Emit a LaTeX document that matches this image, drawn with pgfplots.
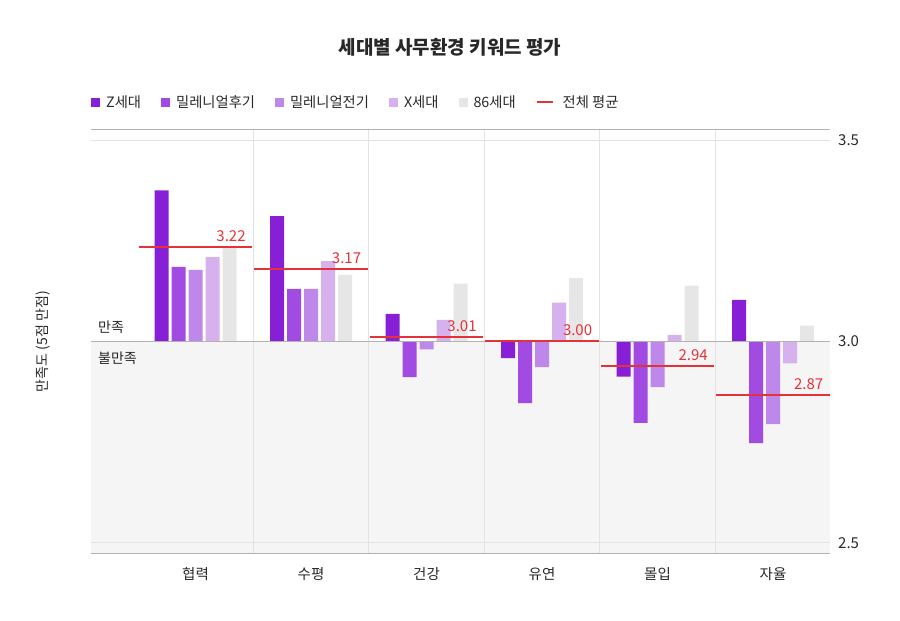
\documentclass[border=0pt]{standalone}
\usepackage{fontspec}
\setmainfont{Noto Sans CJK KR}
\usepackage{pgfplots}
\pgfplotsset{compat=1.18}
\usepackage{pgfplotstable}
\definecolor{cz}{RGB}{134,31,214}
\definecolor{cml}{RGB}{161,75,226}
\definecolor{cme}{RGB}{189,136,234}
\definecolor{cx}{RGB}{214,177,238}
\definecolor{c86}{RGB}{230,230,230}
\definecolor{cavg}{RGB}{228,50,58}
\definecolor{lowbg}{RGB}{245,245,245}
\definecolor{gridc}{RGB}{226,226,226}
\definecolor{basec}{RGB}{178,178,178}
\definecolor{txt}{RGB}{40,40,40}
\tikzset{avglab/.style={font=\fontsize{15}{18}\selectfont, text=cavg, anchor=base east, inner sep=0pt, xshift=-5.5pt, yshift=5.5pt}}

\pgfplotstableread{
x  z     ml    me    xg    e86
0  3.376 3.186 3.178 3.210 3.234
1  3.312 3.131 3.131 3.200 3.166
2  3.069 2.912 2.981 3.054 3.144
3  2.959 2.847 2.937 3.097 3.158
4  2.913 2.798 2.887 3.017 3.139
5  3.104 2.748 2.795 2.946 3.040
}\datatable

\begin{document}
\begin{tikzpicture}
\useasboundingbox (0pt,0pt) rectangle (900pt,621pt);
\node[font=\fontsize{19}{22}\selectfont\bfseries, text=txt] at (450pt,574pt) {세대별 사무환경 키워드 평가};
\begin{axis}[
  at={(91pt,67pt)}, anchor=south west,
  scale only axis, width=739pt, height=424.7pt,
  clip=false,
  xmin=-0.905, xmax=5.493,
  ymin=-0.5275, ymax=0.5275,
  axis line style={draw=none},
  major tick length=0pt,
  xtick={0,1,2,3,4,5}, xticklabels={협력,수평,건강,유연,몰입,자율},
  ytick={-0.5,0,0.5}, yticklabels={2.5,3.0,3.5},
  yticklabel pos=right,
  xticklabel style={font=\fontsize{14.5}{17}\selectfont, text=txt, inner sep=0pt, anchor=center, yshift=-20pt},
  yticklabel style={font=\fontsize{15}{18}\selectfont, text=txt, inner sep=0pt, anchor=west, xshift=8pt},
  legend style={draw=none, fill=none, at={(0,1)}, anchor=west, yshift=27pt,
    inner sep=0pt, font=\fontsize{14.3}{16}\selectfont, text=txt,
    nodes={inner sep=0pt, anchor=west},
    /tikz/every odd column/.append style={column sep=6pt},
    /tikz/every even column/.append style={column sep=20pt}},
  legend columns=-1,
]
\fill[lowbg] (rel axis cs:0,0) rectangle (rel axis cs:1,0.5);
\draw[gridc, line width=1pt] (rel axis cs:0,0.02607) -- (rel axis cs:1,0.02607);
\draw[gridc, line width=1pt] (rel axis cs:0,0.97393) -- (rel axis cs:1,0.97393);
\pgfplotsinvokeforeach{0.5,1.5,2.5,3.5,4.5}{
  \draw[gridc, line width=1pt] ({axis cs:#1,0} |- {rel axis cs:0,0}) -- ({axis cs:#1,0} |- {rel axis cs:0,1});
}

\addplot[ybar, bar width=14pt, bar shift=-34pt, fill=cz, draw=none,
  legend image code/.code={\fill[cz] (0pt,-4.5pt) rectangle (9pt,4.5pt);}]
  table[x=x, y expr=\thisrow{z}-3]{\datatable};
\addlegendentry{Z세대}
\addplot[ybar, bar width=14pt, bar shift=-17pt, fill=cml, draw=none,
  legend image code/.code={\fill[cml] (0pt,-4.5pt) rectangle (9pt,4.5pt);}]
  table[x=x, y expr=\thisrow{ml}-3]{\datatable};
\addlegendentry{밀레니얼후기}
\addplot[ybar, bar width=14pt, bar shift=0pt, fill=cme, draw=none,
  legend image code/.code={\fill[cme] (0pt,-4.5pt) rectangle (9pt,4.5pt);}]
  table[x=x, y expr=\thisrow{me}-3]{\datatable};
\addlegendentry{밀레니얼전기}
\addplot[ybar, bar width=14pt, bar shift=17pt, fill=cx, draw=none,
  legend image code/.code={\fill[cx] (0pt,-4.5pt) rectangle (9pt,4.5pt);}]
  table[x=x, y expr=\thisrow{xg}-3]{\datatable};
\addlegendentry{X세대}
\addplot[ybar, bar width=14pt, bar shift=34pt, fill=c86, draw=none,
  legend image code/.code={\fill[c86] (0pt,-4.5pt) rectangle (9pt,4.5pt);}]
  table[x=x, y expr=\thisrow{e86}-3]{\datatable};
\addlegendentry{86세대}

\draw[basec, line width=1pt] (rel axis cs:0,0.5) -- (rel axis cs:1,0.5);
\draw[basec, line width=1pt] (rel axis cs:0,0) -- (rel axis cs:1,0);
\draw[basec, line width=1pt] (rel axis cs:0,1) -- (rel axis cs:1,1);

\addplot[cavg, line width=2pt,
  legend image code/.code={\draw[cavg, line width=2pt] (0pt,0pt) -- (16pt,0pt); \path (19pt,0pt);}]
  coordinates {(-0.49,0.235) (0.49,0.235)} node[pos=1, avglab] {3.22};
\addlegendentry{전체 평균}
\addplot[cavg, line width=2pt, forget plot] coordinates {(0.51,0.181) (1.49,0.181)} node[pos=1, avglab] {3.17};
\addplot[cavg, line width=2pt, forget plot] coordinates {(1.51,0.012) (2.49,0.012)} node[pos=1, avglab] {3.01};
\addplot[cavg, line width=2pt, forget plot] coordinates {(2.51,0.001) (3.49,0.001)} node[pos=1, avglab] {3.00};
\addplot[cavg, line width=2pt, forget plot] coordinates {(3.51,-0.061) (4.49,-0.061)} node[pos=1, avglab] {2.94};
\addplot[cavg, line width=2pt, forget plot] coordinates {(4.51,-0.133) (5.49,-0.133)} node[pos=1, avglab] {2.87};

\path (rel axis cs:0,0.5) ++(7pt,14pt) node[anchor=west, inner sep=0pt, font=\fontsize{14}{16}\selectfont, text=txt] {만족};
\path (rel axis cs:0,0.5) ++(7pt,-17pt) node[anchor=west, inner sep=0pt, font=\fontsize{14}{16}\selectfont, text=txt] {불만족};
\path (rel axis cs:0,0.5) ++(-48pt,0pt) node[rotate=90, inner sep=0pt, font=\fontsize{14}{16}\selectfont, text=txt] {만족도 (5점 만점)};
\end{axis}
\end{tikzpicture}
\end{document}
